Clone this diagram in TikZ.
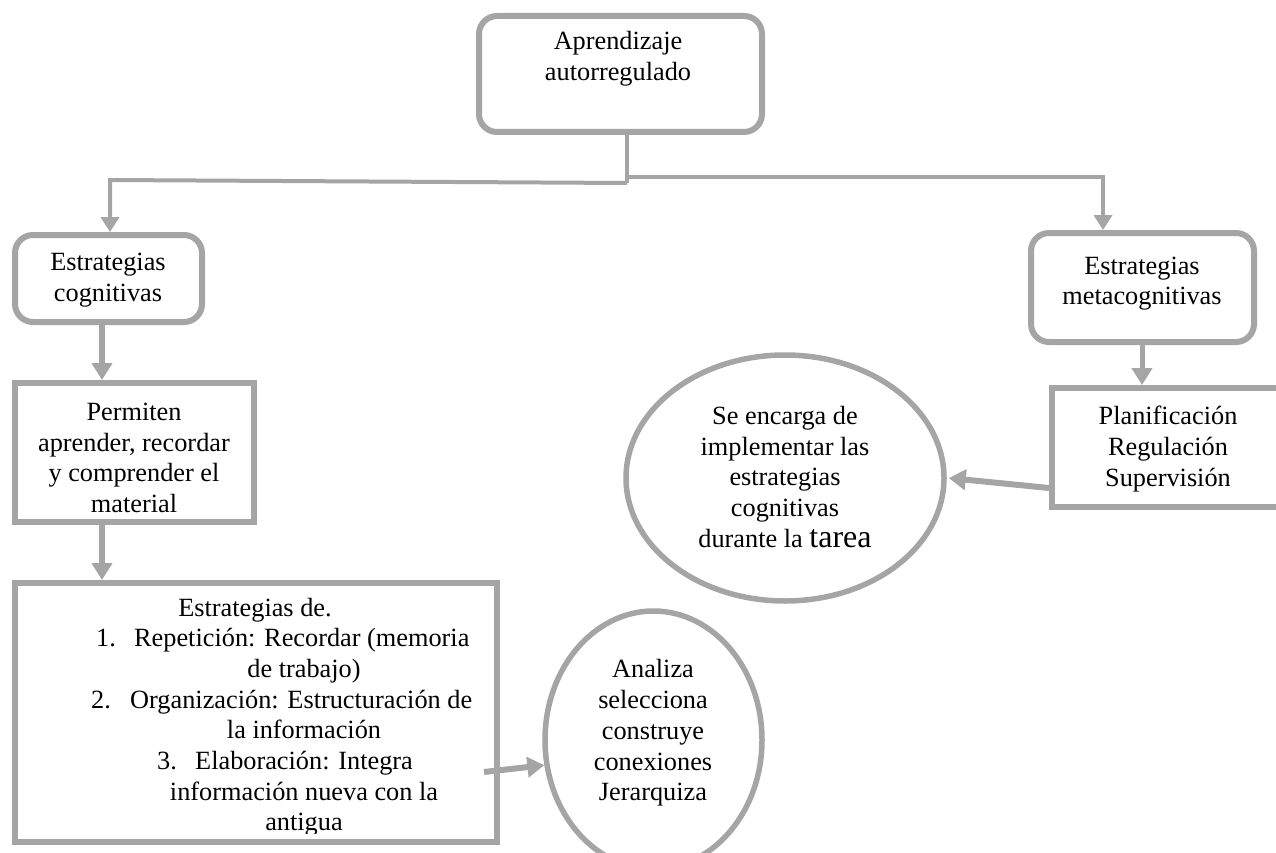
\documentclass[tikz,border=0pt]{standalone}
\usepackage{fontspec}
\setmainfont{Liberation Serif}
\usetikzlibrary{arrows.meta,shapes.geometric,calc}
\definecolor{lg}{HTML}{A5A5A5}
\tikzset{
  rbox/.style={draw=lg, line width=6pt, rounded corners=18pt, inner sep=0pt, fill=white},
  sbox/.style={draw=lg, line width=6pt, inner sep=0pt, fill=white},
  ell/.style={draw=lg, line width=5.5pt, ellipse, inner sep=0pt, fill=white},
  txt/.style={align=center, inner sep=0pt, font=\fontsize{26.3}{30.7}\selectfont},
  ln/.style={inner sep=0pt, anchor=base, font=\fontsize{26.3}{30.7}\selectfont},
  arr/.style={draw=lg, line width=6pt, -{Triangle[width=20pt,length=17pt]}},
  tarr/.style={draw=lg, line width=4pt, -{Triangle[width=18pt,length=15pt]}},
  tree/.style={draw=lg, line width=4pt},
}
\begin{document}
\begin{tikzpicture}[x=1pt,y=-1pt]
\useasboundingbox (0,0) rectangle (1276,853);
\fill[white] (0,0) rectangle (1276,853);
\clip (0,0) rectangle (1276,853);

% shapes
\node[rbox, minimum width=283pt, minimum height=116pt] (top) at (620.5,74) {};
\node[rbox, minimum width=187pt, minimum height=87pt] (cog) at (108.5,278.5) {};
\node[rbox, minimum width=223pt, minimum height=109pt] (meta) at (1142.5,287.5) {};
\node[sbox, minimum width=239pt, minimum height=139pt] (perm) at (134.5,452.5) {};
\node[sbox, minimum width=233pt, minimum height=119pt] (plan) at (1168.5,447.5) {};
\node[sbox, minimum width=482pt, minimum height=259pt] (est) at (256,712.5) {};
\node[ell, minimum width=318pt, minimum height=246pt] (se) at (785,478) {};
\node[ell, minimum width=217pt, minimum height=258pt] (an) at (653.5,740) {};

% texts
\node[txt] (ttop) at (618,58.5) {Aprendizaje\\autorregulado};
\node[txt] (tcog) at (108,280) {Estrategias\\cognitivas};
\node[txt] (tmeta) at (1142,283.5) {Estrategias\\metacognitivas};
\node[txt] (tperm) at (134,458) {Permiten\\aprender, recordar\\y comprender el\\material};
\node[txt] (tplan) at (1168,449) {Planificación\\Regulación\\Supervisión};
\node[txt] (tse) at (785,477) {Se encarga de\\implementar las\\estrategias\\cognitivas\\durante la {\fontsize{32}{30.7}\selectfont tarea}};
\node[txt] (tan) at (653,733) {Analiza\\selecciona\\construye\\conexiones\\Jerarquiza};

\node[ln] (e0) at (255,616) {Estrategias de.};
\node[ln, anchor=base west] (n1) at (96,646.7) {1.};
\node[ln, anchor=base west] (e1) at (134,646.7) {Repetición: Recordar (memoria};
\node[ln] (e2) at (304,677.4) {de trabajo)};
\node[ln, anchor=base west] (n2) at (91,708.1) {2.};
\node[ln, anchor=base west] (e3) at (130,708.1) {Organización: Estructuración de};
\node[ln] (e4) at (304,738.8) {la información};
\node[ln, anchor=base west] (n3) at (157,769.5) {3.};
\node[ln, anchor=base west] (e5) at (195,769.5) {Elaboración: Integra};
\node[ln] (e6) at (304,800.2) {información nueva con la};
\begin{scope}
\clip (0,0) rectangle (1276,833);
\node[ln] (e7) at (304,830.9) {antigua};
\end{scope}

% connectors
\coordinate (jm) at (627,183);
\coordinate (jl) at (110,180);
\coordinate (jr) at (1103,177);
\draw[tree] (top.south -| jm) -- (jm);
\draw[tarr] (jm) -- (jl) -- (jl |- cog.north);
\draw[tarr] (jm |- jr) -- (jr) -- (jr |- meta.north);

\coordinate (c1) at (102,0);
\draw[arr] (cog.south -| c1) -- (perm.north -| c1);
\draw[arr] (perm.south -| c1) -- (est.north -| c1);

\coordinate (c2) at (1142,0);
\draw[arr, line width=5pt] (meta.south -| c2) -- (plan.north -| c2);

\coordinate (c3) at (0,488);
\draw[arr] (plan.west |- c3) -- ([xshift=2pt]se.east);

\coordinate (s1) at (484,772);
\draw[arr] (s1) -- (an.193);
\end{tikzpicture}
\end{document}
